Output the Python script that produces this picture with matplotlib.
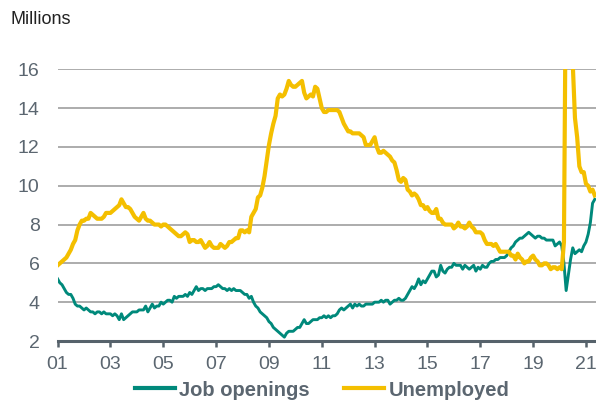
import matplotlib
matplotlib.use("Agg")
import matplotlib.pyplot as plt
import numpy as np

plt.rcParams["font.family"] = ["Liberation Sans", "DejaVu Sans"]

start_year = 2001
unemployed = [
    5.9, 6.0, 6.1, 6.2, 6.3, 6.5, 6.7, 7.0, 7.2, 7.7, 8.0, 8.2,   # 2001
    8.2, 8.3, 8.3, 8.6, 8.5, 8.4, 8.3, 8.3, 8.3, 8.4, 8.6, 8.6,   # 2002
    8.6, 8.7, 8.8, 8.9, 9.0, 9.3, 9.1, 8.9, 8.9, 8.8, 8.6, 8.4,   # 2003
    8.3, 8.2, 8.4, 8.6, 8.3, 8.2, 8.2, 8.1, 8.0, 8.0, 8.0, 7.9,   # 2004
    8.0, 8.0, 7.9, 7.8, 7.7, 7.6, 7.5, 7.4, 7.4, 7.5, 7.6, 7.5,   # 2005
    7.1, 7.2, 7.2, 7.1, 7.1, 7.2, 7.0, 6.8, 6.9, 7.1, 6.9, 6.8,   # 2006
    6.8, 6.8, 7.0, 6.9, 6.8, 6.9, 7.1, 7.1, 7.2, 7.3, 7.3, 7.7,   # 2007
    7.7, 7.6, 7.7, 7.6, 8.4, 8.6, 8.8, 9.4, 9.5, 9.9, 10.5, 11.3, # 2008
    12.1, 12.7, 13.2, 13.6, 14.5, 14.7, 14.6, 14.7, 15.0, 15.4, 15.2, 15.1,  # 2009
    15.1, 15.2, 15.3, 15.4, 14.8, 14.5, 14.6, 14.7, 14.6, 15.1, 15.0, 14.5,  # 2010
    14.0, 13.8, 13.8, 13.9, 13.9, 13.9, 13.9, 13.9, 13.8, 13.5, 13.2, 13.0,  # 2011
    12.8, 12.8, 12.7, 12.7, 12.7, 12.7, 12.6, 12.5, 12.1, 12.1, 12.1, 12.3,  # 2012
    12.5, 12.0, 11.7, 11.7, 11.8, 11.7, 11.6, 11.5, 11.3, 11.2, 10.8, 10.3,  # 2013
    10.2, 10.4, 10.3, 9.8, 9.7, 9.5, 9.6, 9.5, 9.3, 9.0, 9.0, 8.8,  # 2014
    8.9, 8.7, 8.6, 8.6, 8.8, 8.3, 8.3, 8.1, 8.0, 8.0, 8.0, 8.0,   # 2015
    7.8, 7.9, 8.1, 7.9, 7.9, 7.8, 7.9, 8.1, 7.9, 7.8, 7.6, 7.6,   # 2016
    7.6, 7.5, 7.2, 7.0, 7.0, 7.0, 6.9, 7.0, 6.8, 6.6, 6.6, 6.6,   # 2017
    6.6, 6.6, 6.4, 6.4, 6.2, 6.5, 6.3, 6.2, 6.0, 6.1, 6.1, 6.3,   # 2018
    6.4, 6.2, 6.1, 5.9, 5.9, 6.0, 6.0, 5.9, 5.7, 5.8, 5.8, 5.7,   # 2019
    5.8, 5.7, 7.1, 23.1, 20.9, 17.7, 16.3, 13.5, 12.5, 11.0, 10.7, 10.7,  # 2020
    10.1, 10.0, 9.7, 9.8, 9.5,                                     # 2021
]
job_openings = [
    5.2, 5.0, 4.9, 4.7, 4.5, 4.4, 4.4, 4.2, 3.9, 3.8, 3.8, 3.7,   # 2001
    3.6, 3.7, 3.6, 3.5, 3.5, 3.4, 3.5, 3.5, 3.4, 3.5, 3.4, 3.4,   # 2002
    3.4, 3.3, 3.4, 3.3, 3.1, 3.4, 3.1, 3.2, 3.3, 3.4, 3.5, 3.5,   # 2003
    3.5, 3.6, 3.6, 3.6, 3.8, 3.5, 3.7, 3.9, 3.7, 3.8, 3.8, 4.0,   # 2004
    3.9, 4.0, 4.1, 4.1, 4.0, 4.3, 4.2, 4.3, 4.3, 4.3, 4.4, 4.3,   # 2005
    4.5, 4.4, 4.6, 4.8, 4.6, 4.7, 4.7, 4.6, 4.7, 4.7, 4.7, 4.8,   # 2006
    4.8, 4.9, 4.8, 4.7, 4.7, 4.6, 4.7, 4.6, 4.7, 4.6, 4.6, 4.6,   # 2007
    4.5, 4.4, 4.4, 4.2, 4.3, 4.0, 3.8, 3.7, 3.5, 3.4, 3.3, 3.2,   # 2008
    3.0, 2.9, 2.7, 2.6, 2.5, 2.4, 2.3, 2.2, 2.4, 2.5, 2.5, 2.5,   # 2009
    2.6, 2.7, 2.7, 2.9, 3.1, 2.9, 2.9, 3.0, 3.1, 3.1, 3.1, 3.2,   # 2010
    3.2, 3.3, 3.2, 3.3, 3.2, 3.3, 3.3, 3.4, 3.6, 3.7, 3.6, 3.7,   # 2011
    3.8, 3.9, 3.7, 3.9, 3.8, 3.9, 3.8, 3.8, 3.9, 3.9, 3.9, 3.9,   # 2012
    4.0, 4.0, 4.0, 4.1, 4.0, 4.1, 4.1, 3.9, 4.0, 4.1, 4.1, 4.2,   # 2013
    4.1, 4.1, 4.2, 4.4, 4.6, 4.8, 4.7, 4.9, 5.2, 4.9, 5.1, 5.0,   # 2014
    5.2, 5.4, 5.6, 5.6, 5.3, 5.4, 5.9, 5.6, 5.5, 5.7, 5.8, 5.8,   # 2015
    6.0, 5.9, 5.9, 5.9, 5.7, 5.9, 5.8, 5.7, 5.8, 5.9, 5.6, 5.8,   # 2016
    5.7, 5.9, 5.8, 5.8, 6.0, 6.1, 6.1, 6.2, 6.2, 6.3, 6.3, 6.3,   # 2017
    6.4, 6.6, 6.8, 6.9, 7.1, 7.2, 7.3, 7.3, 7.4, 7.5, 7.6, 7.5,   # 2018
    7.4, 7.3, 7.4, 7.4, 7.3, 7.3, 7.2, 7.2, 7.2, 7.2, 6.9, 7.0,   # 2019
    7.1, 6.9, 6.0, 4.6, 5.4, 6.2, 6.8, 6.5, 6.6, 6.7, 6.6, 6.9,   # 2020
    7.1, 7.5, 8.1, 9.1, 9.3,                                       # 2021
]
y_ticks = [2, 4, 6, 8, 10, 12, 14, 16]
x_tick_years = list(range(2001, 2022, 2))
x_tick_labels = ["01", "03", "05", "07", "09", "11", "13", "15", "17", "19", "21"]

t_unemp = start_year + np.arange(len(unemployed)) / 12.0
t_jobs = start_year + np.arange(len(job_openings)) / 12.0

YELLOW = "#F4BF00"
TEAL = "#00897B"
GRAY_TXT = "#5B6670"

fig = plt.figure(figsize=(5.96, 4.0), dpi=100)
ax = fig.add_axes([57.6 / 596, 1 - 341 / 400, 1 - 57.6 / 596, (341 - 69.3) / 400])

ax.plot(t_jobs, job_openings, color=TEAL, lw=2.1, label="Job openings", zorder=3,
        solid_joinstyle="round")
ax.plot(t_unemp, unemployed, color=YELLOW, lw=3.0, label="Unemployed", zorder=4,
        solid_joinstyle="round")

ax.set_ylim(2, 16)
ax.set_xlim(2001, 2021.38)
ax.set_yticks(y_ticks)
ax.set_xticks(x_tick_years)
ax.set_xticklabels(x_tick_labels)

ax.grid(axis="y", color="#A6A6A6", lw=1.3, zorder=0)
ax.set_axisbelow(True)
for s in ["top", "right", "left"]:
    ax.spines[s].set_visible(False)
ax.spines["bottom"].set_color("#56626B")
ax.spines["bottom"].set_linewidth(2.2)
ax.spines["bottom"].set_zorder(5)

ax.tick_params(axis="y", length=0, pad=13, labelsize=14, labelcolor=GRAY_TXT)
ax.tick_params(axis="x", direction="out", length=4.5, width=1.8, color="#56626B",
               pad=6, labelsize=14, labelcolor=GRAY_TXT)

fig.text(10 / 596, 1 - 20 / 400, "Millions", fontsize=13, color="#222222",
         va="center", ha="left")

leg = fig.legend(loc="center", bbox_to_anchor=(322 / 596, 1 - 390 / 400), ncol=2,
                 frameon=False, handlelength=2.0, handletextpad=0.2,
                 columnspacing=1.7, prop={"weight": "bold", "size": 14.5})
for txt in leg.get_texts():
    txt.set_color(GRAY_TXT)
for h in leg.get_lines():
    h.set_linewidth(3.0)

fig.savefig("out.png", dpi=100)
